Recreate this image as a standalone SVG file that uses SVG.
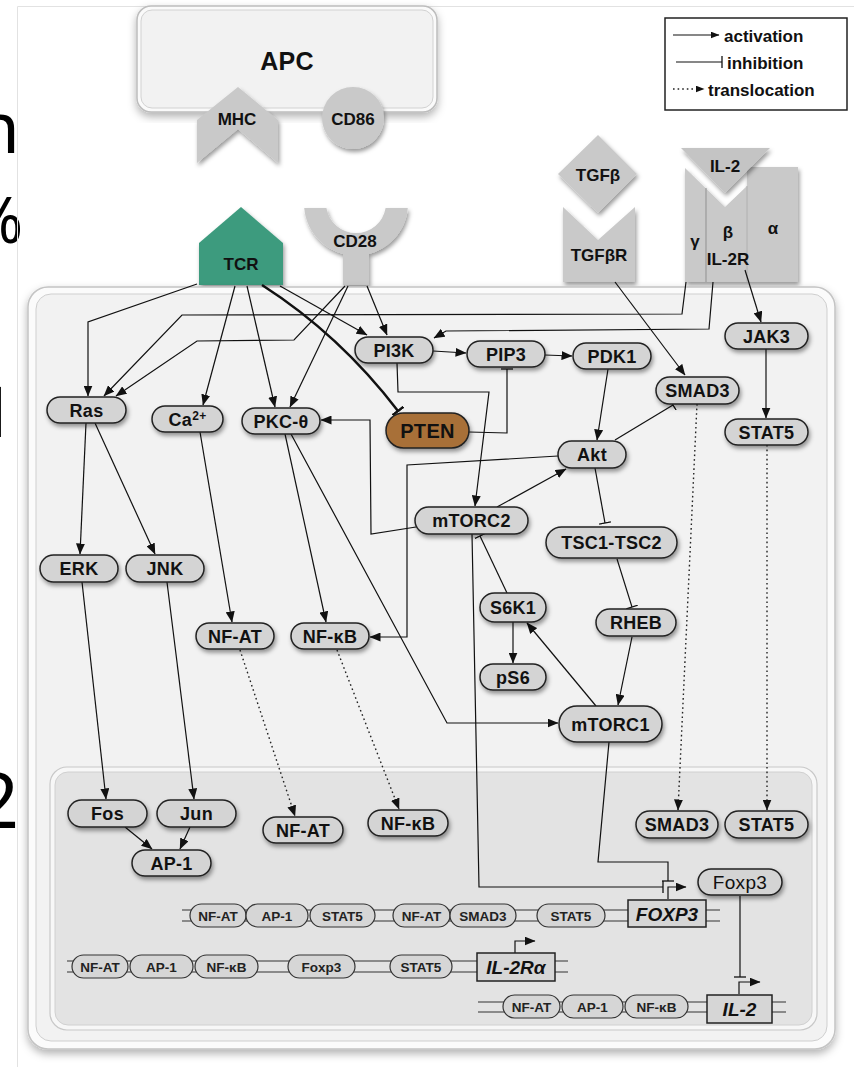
<svg xmlns="http://www.w3.org/2000/svg" width="854" height="1067" viewBox="0 0 854 1067">
<defs>
  <filter id="sh" x="-20%" y="-20%" width="150%" height="170%">
    <feDropShadow dx="1.5" dy="3" stdDeviation="2" flood-color="#000" flood-opacity="0.4"/>
  </filter>
  <filter id="shBig" x="-10%" y="-10%" width="120%" height="120%">
    <feDropShadow dx="0" dy="4" stdDeviation="4" flood-color="#000" flood-opacity="0.3"/>
  </filter>
  <marker id="arr" viewBox="0 0 11 9" refX="10.5" refY="4.5" markerWidth="11" markerHeight="9" markerUnits="userSpaceOnUse" orient="auto">
    <path d="M0,0 L11,4.5 L0,9 Z" fill="#111"/>
  </marker>
  <marker id="arrS" viewBox="0 0 9 7" refX="8.5" refY="3.5" markerWidth="9" markerHeight="7" markerUnits="userSpaceOnUse" orient="auto">
    <path d="M0,0 L9,3.5 L0,7 Z" fill="#111"/>
  </marker>
  <marker id="bar" viewBox="0 0 2 12" refX="1" refY="6" markerWidth="2" markerHeight="12" markerUnits="userSpaceOnUse" orient="auto">
    <path d="M1,0 V12" stroke="#111" stroke-width="1.3"/>
  </marker>
  <marker id="barT" viewBox="0 0 3 14" refX="1.5" refY="7" markerWidth="3" markerHeight="14" markerUnits="userSpaceOnUse" orient="auto">
    <path d="M1.5,0 V14" stroke="#111" stroke-width="2.5"/>
  </marker>
</defs>
<style>
  .lbl{font-family:"Liberation Sans",Arial,sans-serif;font-weight:bold;font-size:18px;letter-spacing:0.3px;fill:#111;text-anchor:middle}
  .rl{font-size:17px;letter-spacing:0}
  .dna{font-family:"Liberation Sans",Arial,sans-serif;font-weight:bold;font-size:13.5px;fill:#222;text-anchor:middle}
  .gene{font-family:"Liberation Sans",Arial,sans-serif;font-weight:bold;font-style:italic;font-size:19px;fill:#111;text-anchor:middle}
  .leg{font-family:"Liberation Sans",Arial,sans-serif;font-weight:bold;font-size:17px;fill:#111}
  .slide{font-family:"Noto Sans","Open Sans",sans-serif;fill:#000}
  .node{fill:#d4d4d4;stroke:#222;stroke-width:1.5;filter:url(#sh)}
  .pill{fill:#d6d6d6;stroke:#333;stroke-width:1.2}
  .rec{fill:#c9c9c9;filter:url(#sh)}
  .act{fill:none;stroke:#111;stroke-width:1.2;marker-end:url(#arr)}
  .inh{fill:none;stroke:#111;stroke-width:1.2;marker-end:url(#bar)}
  .trl{fill:none;stroke:#222;stroke-width:1.4;stroke-dasharray:1.6,3;marker-end:url(#arr)}
  .strand{fill:none;stroke:#333;stroke-width:1.2}
</style>

<rect width="854" height="1067" fill="#fff"/>
<!-- slide text peeking in on the left -->
<text class="slide" x="-24" y="153" style="font-size:71px">n</text>
<text class="slide" x="-30" y="243" style="font-size:64px">%</text>
<text class="slide" x="-10.5" y="437" style="font-size:66px">l</text>
<text class="slide" x="-25" y="828" style="font-size:77px">2</text>
<path d="M17.5,1067 V6.5 H854" fill="none" stroke="#e2e2e2" stroke-width="1"/>

<!-- antigen presenting cell -->
<g id="apc">
  <rect x="137" y="6" width="300" height="106" rx="14" fill="#fafafa" stroke="#bdbdbd" stroke-width="1.5" filter="url(#shBig)"/>
  <rect x="141" y="10" width="292" height="98" rx="11" fill="#f2f2f2" stroke="#d2d2d2" stroke-width="1"/>
  <text class="lbl" x="287" y="70" style="font-size:25px">APC</text>
</g>
<g id="mhc">
  <polygon class="rec" points="238,87 278,120 278,163 238,129 197,163 197,120"/>
  <text class="lbl rl" x="237" y="125">MHC</text>
</g>
<g id="cd86">
  <circle class="rec" cx="353" cy="118" r="31"/>
  <text class="lbl rl" x="353" y="125">CD86</text>
</g>

<!-- T cell surface receptors -->
<g id="tcr">
  <polygon points="241,207 283,243 283,285 199,285 199,243" fill="#3e9b7e" filter="url(#sh)"/>
  <text class="lbl rl" x="241" y="270">TCR</text>
</g>
<g id="cd28">
  <g filter="url(#sh)" fill="#c9c9c9">
    <path d="M304.2,208 A52,52 0 0,0 407.8,208 L385.6,208 A30,30 0 0,1 326.4,208 Z"/>
    <rect x="343" y="248" width="26" height="37"/>
  </g>
  <text class="lbl rl" x="355" y="247">CD28</text>
</g>
<g id="tgfb">
  <polygon class="rec" points="598,135 637,174 598,213 558,174"/>
  <text class="lbl rl" x="598" y="181">TGFβ</text>
</g>
<g id="tgfbr">
  <polygon class="rec" points="563,207 598,240 635,207 635,282 563,282"/>
  <text class="lbl rl" x="599" y="261">TGFβR</text>
</g>
<g id="il2r">
  <g filter="url(#sh)" fill="#c9c9c9">
    <rect x="747" y="167" width="51" height="115"/>
    <polygon points="685,168 725,207 747,186 747,282 685,282"/>
  </g>
  <path d="M706,188 V282" stroke="#9a9a9a" stroke-width="1.2"/>
  <path d="M747,186 V282" stroke="#b0b0b0" stroke-width="1"/>
  <text class="lbl rl" x="695" y="247">γ</text>
  <text class="lbl rl" x="728" y="238">β</text>
  <text class="lbl rl" x="773" y="234">α</text>
  <text class="lbl rl" x="728" y="265">IL-2R</text>
</g>
<g id="il2">
  <polygon points="681,148 770,148 725,193" fill="#c4c4c4" filter="url(#sh)"/>
  <text class="lbl rl" x="725" y="172">IL-2</text>
</g>

<!-- legend -->
<g id="legend">
  <rect x="665" y="18" width="182" height="92" fill="#fff" stroke="#222" stroke-width="1.5"/>
  <path d="M673,35 H719" fill="none" stroke="#111" stroke-width="1.2" marker-end="url(#arrS)"/>
  <text class="leg" x="724" y="42">activation</text>
  <path d="M676,62 H722" fill="none" stroke="#111" stroke-width="1.2" marker-end="url(#bar)"/>
  <text class="leg" x="727" y="69">inhibition</text>
  <path d="M673,89 H704" fill="none" stroke="#222" stroke-width="1.3" stroke-dasharray="1.6,3" marker-end="url(#arrS)"/>
  <text class="leg" x="708" y="96">translocation</text>
</g>

<!-- cell body and nucleus -->
<g id="cell">
  <rect x="28" y="287" width="807" height="762" rx="20" fill="#fbfbfb" stroke="#c4c4c4" stroke-width="1.5" filter="url(#shBig)"/>
  <rect x="36" y="294" width="791" height="747" rx="15" fill="#f2f2f2" stroke="#cfcfcf" stroke-width="1"/>
</g>
<g id="nucleus">
  <rect x="50" y="767" width="767" height="263" rx="17" fill="#f7f7f7" stroke="#c8c8c8" stroke-width="1.2"/>
  <rect x="55" y="772" width="757" height="253" rx="13" fill="#e3e3e3" stroke="#d0d0d0" stroke-width="1"/>
</g>

<!-- signalling connectors -->
<g id="connectors">
  <path class="act" d="M197,284 L88,322 L88,396"/>
  <path class="act" d="M235,286 L203,405"/>
  <path class="act" d="M247,286 L275,407"/>
  <path class="act" d="M280,286 L367,335"/>
  <path class="act" d="M345,286 L294,340 L197,341 L116,396"/>
  <path class="act" d="M348,286 L290,407"/>
  <path class="act" d="M367,286 L387,335"/>
  <path class="act" d="M686,282 L682,314 L182,315 L104,396"/>
  <path class="act" d="M713,282 L709,329 L446,331 L434,338"/>
  <path class="act" d="M745,270 L761,322"/>
  <path class="act" d="M615,282 L685,375"/>
  <path class="act" d="M433,351 L466,353"/>
  <path class="act" d="M545,355 L572,356"/>
  <path class="act" d="M608,369 L597,440"/>
  <path class="act" d="M766,349 L766,418"/>
  <path class="act" d="M397,363 L398,392 L489,392 L475,506"/>
  <path class="act" d="M497,507 L566,469"/>
  <path class="act" d="M558,456 L407,465 L407,637 L370,637"/>
  <path class="act" d="M416,527 L371,534 L370,420 L321,420"/>
  <path class="act" d="M86,423 L80,554"/>
  <path class="act" d="M95,423 L155,554"/>
  <path class="act" d="M200,432 L232,622"/>
  <path class="act" d="M285,434 L326,622"/>
  <path class="act" d="M291,434 L447,723 L558,723"/>
  <path class="act" d="M82,582 L106,799"/>
  <path class="act" d="M167,582 L194,799"/>
  <path class="act" d="M125,827 L152,849"/>
  <path class="act" d="M190,827 L180,849"/>
  <path class="act" d="M632,637 L618,705"/>
  <path class="act" d="M596,706 L527,623"/>
  <path class="act" d="M513,622 L513,663"/>
  <path class="trl" d="M240,650 L295,816"/>
  <path class="trl" d="M337,650 L399,809"/>
  <path class="trl" d="M697,404 L678,810"/>
  <path class="trl" d="M767,445 L767,810"/>
  <path class="inh" d="M469,432 L507,433 L507,369"/>
  <path class="inh" d="M615,440 L673,405"/>
  <path class="inh" d="M595,468 L605,523"/>
  <path class="inh" d="M617,559 L632,607"/>
  <path class="inh" d="M507,593 L480,536"/>
  <path class="inh" d="M472,534 L479,887 L663,887"/>
  <path class="inh" d="M609,742 L598,862 L668,862 L668,881"/>
  <path class="inh" d="M740,896 L740,977"/>
  <path d="M262,285 Q340,335 398,411" fill="none" stroke="#111" stroke-width="2.5" marker-end="url(#barT)"/>
  <path class="act" d="M668,899 V887 H686"/>
  <path class="act" d="M515,953 V941 H535"/>
  <path class="act" d="M739,994 V982 H760"/>
</g>

<!-- cytoplasmic nodes -->
<g id="pi3k"><rect class="node" x="355" y="337" width="78" height="26" rx="13"/><text class="lbl" x="394" y="356.5">PI3K</text></g>
<g id="pip3"><rect class="node" x="467" y="341" width="78" height="26" rx="13"/><text class="lbl" x="506" y="360.5">PIP3</text></g>
<g id="pdk1"><rect class="node" x="573" y="343" width="78" height="26" rx="13"/><text class="lbl" x="612" y="362.5">PDK1</text></g>
<g id="smad3"><rect class="node" x="656" y="377" width="83" height="27" rx="13.5"/><text class="lbl" x="697.5" y="397">SMAD3</text></g>
<g id="jak3"><rect class="node" x="725" y="323" width="83" height="26" rx="13"/><text class="lbl" x="766.5" y="342.5">JAK3</text></g>
<g id="stat5"><rect class="node" x="725" y="419" width="83" height="26" rx="13"/><text class="lbl" x="766.5" y="438.5">STAT5</text></g>
<g id="akt"><rect class="node" x="558" y="441" width="68" height="27" rx="13.5"/><text class="lbl" x="592" y="461">Akt</text></g>
<g id="mtorc2"><rect class="node" x="415" y="507" width="113" height="27" rx="13.5"/><text class="lbl" x="471.5" y="527">mTORC2</text></g>
<g id="tsc"><rect class="node" x="546" y="527" width="131" height="31" rx="15.5"/><text class="lbl" x="611.5" y="549">TSC1-TSC2</text></g>
<g id="pten"><rect x="386" y="413" width="83" height="35" rx="17.5" fill="#a86f37" stroke="#222" stroke-width="1.5" filter="url(#sh)"/><text class="lbl" x="427.5" y="437.5" style="font-size:20px">PTEN</text></g>
<g id="ras"><rect class="node" x="47" y="397" width="79" height="26" rx="13"/><text class="lbl" x="86.5" y="416.5">Ras</text></g>
<g id="ca"><rect class="node" x="152" y="406" width="71" height="26" rx="13"/><text class="lbl" x="187.5" y="425.5">Ca<tspan style="font-size:12px" dy="-6">2+</tspan></text></g>
<g id="pkc"><rect class="node" x="242" y="408" width="78" height="26" rx="13"/><text class="lbl" x="281" y="427.5">PKC-θ</text></g>
<g id="erk"><rect class="node" x="40" y="555" width="78" height="27" rx="13.5"/><text class="lbl" x="79" y="575">ERK</text></g>
<g id="jnk"><rect class="node" x="126" y="555" width="78" height="27" rx="13.5"/><text class="lbl" x="165" y="575">JNK</text></g>
<g id="nfat"><rect class="node" x="196" y="623" width="78" height="26" rx="13"/><text class="lbl" x="235" y="642.5">NF-AT</text></g>
<g id="nfkb"><rect class="node" x="291" y="623" width="78" height="26" rx="13"/><text class="lbl" x="330" y="642.5">NF-κB</text></g>
<g id="s6k1"><rect class="node" x="480" y="593" width="66" height="29" rx="14.5"/><text class="lbl" x="513" y="614">S6K1</text></g>
<g id="rheb"><rect class="node" x="596" y="609" width="80" height="27" rx="13.5"/><text class="lbl" x="636" y="629">RHEB</text></g>
<g id="ps6"><rect class="node" x="480" y="664" width="66" height="26" rx="13"/><text class="lbl" x="513" y="683.5">pS6</text></g>
<g id="mtorc1"><rect class="node" x="559" y="706" width="103" height="36" rx="18"/><text class="lbl" x="610.5" y="730.5">mTORC1</text></g>

<!-- nuclear factors -->
<g id="fos"><rect class="node" x="68" y="800" width="79" height="27" rx="13.5"/><text class="lbl" x="107.5" y="820">Fos</text></g>
<g id="jun"><rect class="node" x="157" y="800" width="79" height="27" rx="13.5"/><text class="lbl" x="196.5" y="820">Jun</text></g>
<g id="nfat-n"><rect class="node" x="263" y="817" width="80" height="26" rx="13"/><text class="lbl" x="303" y="836.5">NF-AT</text></g>
<g id="nfkb-n"><rect class="node" x="368" y="810" width="80" height="26" rx="13"/><text class="lbl" x="408" y="829.5">NF-κB</text></g>
<g id="ap1"><rect class="node" x="132" y="850" width="79" height="26" rx="13"/><text class="lbl" x="171.5" y="869.5">AP-1</text></g>
<g id="smad3-n"><rect class="node" x="636" y="811" width="82" height="27" rx="13.5"/><text class="lbl" x="677" y="831">SMAD3</text></g>
<g id="stat5-n"><rect class="node" x="725" y="811" width="83" height="27" rx="13.5"/><text class="lbl" x="766.5" y="831">STAT5</text></g>
<g id="foxp3-n"><rect class="node" x="698" y="869" width="84" height="26" rx="13"/><text class="lbl" x="740" y="888.5" style="font-weight:normal;font-size:19px">Foxp3</text></g>

<!-- FOXP3 locus -->
<g id="foxp3-locus">
  <path class="strand" d="M182,910 H720 M182,921 H720"/>
  <rect class="pill" x="190" y="904" width="56" height="23" rx="11.5"/><text class="dna" x="218" y="920.5">NF-AT</text>
  <rect class="pill" x="246" y="904" width="62" height="23" rx="11.5"/><text class="dna" x="277" y="920.5">AP-1</text>
  <rect class="pill" x="310" y="904" width="65" height="23" rx="11.5"/><text class="dna" x="342.5" y="920.5">STAT5</text>
  <rect class="pill" x="393" y="904" width="57" height="23" rx="11.5"/><text class="dna" x="421.5" y="920.5">NF-AT</text>
  <rect class="pill" x="450" y="904" width="66" height="23" rx="11.5"/><text class="dna" x="483" y="920.5">SMAD3</text>
  <rect class="pill" x="537" y="904" width="68" height="23" rx="11.5"/><text class="dna" x="571" y="920.5">STAT5</text>
  <rect x="628" y="900" width="78" height="27" fill="#d6d6d6" stroke="#222" stroke-width="1.5"/><text class="gene" x="667" y="920.5">FOXP3</text>
</g>
<!-- IL-2Rα locus -->
<g id="il2ra-locus">
  <path class="strand" d="M67,961 H568 M67,972 H568"/>
  <rect class="pill" x="72" y="955" width="56" height="23" rx="11.5"/><text class="dna" x="100" y="971.5">NF-AT</text>
  <rect class="pill" x="130" y="955" width="63" height="23" rx="11.5"/><text class="dna" x="161.5" y="971.5">AP-1</text>
  <rect class="pill" x="195" y="955" width="63" height="23" rx="11.5"/><text class="dna" x="226.5" y="971.5">NF-κB</text>
  <rect class="pill" x="288" y="955" width="67" height="23" rx="11.5"/><text class="dna" x="321.5" y="971.5">Foxp3</text>
  <rect class="pill" x="390" y="955" width="62" height="23" rx="11.5"/><text class="dna" x="421" y="971.5">STAT5</text>
  <rect x="477" y="953" width="78" height="28" fill="#d6d6d6" stroke="#222" stroke-width="1.5"/><text class="gene" x="516" y="974">IL-2Rα</text>
</g>
<!-- IL-2 locus -->
<g id="il2-locus">
  <path class="strand" d="M478,1002 H786 M478,1012 H786"/>
  <rect class="pill" x="503" y="995" width="57" height="23" rx="11.5"/><text class="dna" x="531.5" y="1011.5">NF-AT</text>
  <rect class="pill" x="562" y="995" width="61" height="23" rx="11.5"/><text class="dna" x="592.5" y="1011.5">AP-1</text>
  <rect class="pill" x="625" y="995" width="63" height="23" rx="11.5"/><text class="dna" x="656.5" y="1011.5">NF-κB</text>
  <rect x="707" y="995" width="65" height="28" fill="#d6d6d6" stroke="#222" stroke-width="1.5"/><text class="gene" x="739.5" y="1016">IL-2</text>
</g>
</svg>
